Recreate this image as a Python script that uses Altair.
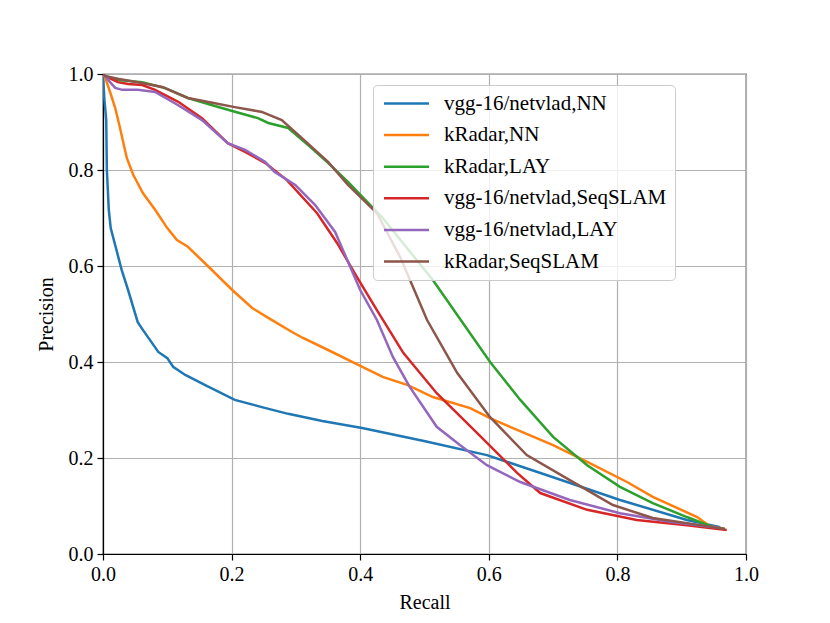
import altair as alt
import pandas as pd

labels = [
    "vgg-16/netvlad,NN",
    "kRadar,NN",
    "kRadar,LAY",
    "vgg-16/netvlad,SeqSLAM",
    "vgg-16/netvlad,LAY",
    "kRadar,SeqSLAM",
]
colors = ["#1f77b4", "#ff7f0e", "#2ca02c", "#d62728", "#9467bd", "#8c564b"]

vgg_nn_r = [0.0, 0.002, 0.005, 0.006, 0.009, 0.012, 0.021, 0.029, 0.039, 0.054, 0.062, 0.086, 0.1, 0.109, 0.128,
            0.159, 0.205, 0.247, 0.288, 0.341, 0.403, 0.501, 0.597, 0.7, 0.804, 0.908, 0.96]
vgg_nn_p = [1.0, 0.95, 0.904, 0.8, 0.717, 0.679, 0.633, 0.592, 0.55, 0.483, 0.467, 0.421, 0.408, 0.39, 0.373,
            0.352, 0.321, 0.306, 0.292, 0.277, 0.2625, 0.235, 0.206, 0.16, 0.1125, 0.071, 0.056]

kr_nn_r = [0.0, 0.003, 0.011, 0.019, 0.026, 0.037, 0.047, 0.062, 0.081, 0.1, 0.115, 0.132, 0.163, 0.201, 0.232,
           0.257, 0.294, 0.311, 0.35, 0.397, 0.435, 0.474, 0.513, 0.571, 0.602, 0.633, 0.7, 0.753, 0.815, 0.855,
           0.924, 0.944, 0.967]
kr_nn_p = [1.0, 0.994, 0.9625, 0.929, 0.89, 0.825, 0.79, 0.752, 0.717, 0.679, 0.654, 0.64, 0.6, 0.55, 0.5125,
           0.492, 0.4625, 0.45, 0.425, 0.394, 0.369, 0.352, 0.327, 0.304, 0.283, 0.265, 0.227, 0.192, 0.15, 0.119,
           0.077, 0.058, 0.052]

kr_lay_r = [0.0, 0.003, 0.023, 0.061, 0.096, 0.132, 0.17, 0.201, 0.241, 0.257, 0.288, 0.319, 0.35, 0.381, 0.435,
            0.513, 0.602, 0.649, 0.7, 0.753, 0.804, 0.855, 0.908, 0.949, 0.967]
kr_lay_p = [1.0, 0.996, 0.9875, 0.983, 0.971, 0.95, 0.935, 0.923, 0.908, 0.898, 0.8875, 0.852, 0.815, 0.775, 0.7,
            0.571, 0.4, 0.321, 0.244, 0.185, 0.14, 0.106, 0.077, 0.056, 0.052]

vgg_seq_r = [0.0, 0.003, 0.023, 0.039, 0.061, 0.081, 0.117, 0.154, 0.194, 0.221, 0.252, 0.286, 0.333, 0.364, 0.395,
             0.426, 0.467, 0.519, 0.582, 0.644, 0.68, 0.753, 0.83, 0.908, 0.97]
vgg_seq_p = [1.0, 0.996, 0.983, 0.979, 0.977, 0.967, 0.942, 0.908, 0.856, 0.8375, 0.815, 0.779, 0.71, 0.648, 0.577,
             0.508, 0.419, 0.335, 0.252, 0.169, 0.127, 0.092, 0.071, 0.06, 0.05]

vgg_lay_r = [0.0, 0.003, 0.011, 0.019, 0.03, 0.054, 0.081, 0.117, 0.154, 0.194, 0.221, 0.252, 0.267, 0.299, 0.33,
             0.361, 0.4, 0.426, 0.451, 0.477, 0.519, 0.555, 0.597, 0.649, 0.726, 0.804, 0.882, 0.96]
vgg_lay_p = [1.0, 0.996, 0.983, 0.971, 0.967, 0.967, 0.9625, 0.935, 0.904, 0.856, 0.842, 0.817, 0.796, 0.769, 0.727,
             0.671, 0.55, 0.4875, 0.41, 0.348, 0.265, 0.227, 0.185, 0.15, 0.1125, 0.085, 0.067, 0.054]

kr_seq_r = [0.0, 0.003, 0.023, 0.054, 0.092, 0.132, 0.17, 0.205, 0.247, 0.278, 0.309, 0.35, 0.381, 0.426, 0.462,
            0.504, 0.551, 0.602, 0.659, 0.726, 0.793, 0.855, 0.949, 0.967]
kr_seq_p = [1.0, 0.996, 0.99, 0.983, 0.973, 0.95, 0.94, 0.931, 0.921, 0.904, 0.867, 0.817, 0.769, 0.71, 0.619,
            0.4875, 0.377, 0.285, 0.206, 0.154, 0.102, 0.075, 0.056, 0.052]

series = [
    (vgg_nn_r, vgg_nn_p),
    (kr_nn_r, kr_nn_p),
    (kr_lay_r, kr_lay_p),
    (vgg_seq_r, vgg_seq_p),
    (vgg_lay_r, vgg_lay_p),
    (kr_seq_r, kr_seq_p),
]

rows = []
for k, (lab, (rs, ps)) in enumerate(zip(labels, series)):
    for i, (r, p) in enumerate(zip(rs, ps)):
        rows.append({"method": lab, "recall": r, "precision": p, "idx": i, "k": k})
df = pd.DataFrame(rows)

FONT = "Liberation Serif"
ticks = [0.0, 0.2, 0.4, 0.6, 0.8, 1.0]

chart = alt.Chart(df).mark_line(strokeWidth=2.5, clip=True).encode(
    x=alt.X("recall:Q", title="Recall", scale=alt.Scale(domain=[0, 1], nice=False),
            axis=alt.Axis(values=ticks, format=".1f", labelFlush=False)),
    y=alt.Y("precision:Q", title="Precision", scale=alt.Scale(domain=[0, 1], nice=False),
            axis=alt.Axis(values=ticks, format=".1f", labelFlush=False)),
    color=alt.Color("method:N", scale=alt.Scale(domain=labels, range=colors),
                    legend=alt.Legend(orient="none", legendX=270, legendY=11, title=None,
                                      symbolType="M-3,0H3", symbolSize=225, symbolStrokeWidth=2.5,
                                      symbolOffset=15,
                                      labelFontSize=21, labelFont=FONT, labelColor="black",
                                      labelOffset=27, labelLimit=500,
                                      fillColor="rgba(255,255,255,0.8)", strokeColor="#cccccc",
                                      cornerRadius=4, padding=8, rowPadding=9.6)),
    order="idx:Q",
    detail="method:N",
).properties(
    width=643, height=480,
    autosize=alt.AutoSizeParams(type="none"),
    padding={"left": 95, "top": 66, "right": 76, "bottom": 61},
).configure_axis(
    grid=True, gridColor="#b0b0b0", gridWidth=1.2,
    domainColor="black", domainWidth=1.2,
    tickColor="black", tickSize=6, tickWidth=1.2,
    labelFont=FONT, labelFontSize=20, labelColor="black", labelPadding=4,
    titleFont=FONT, titleFontSize=20, titleColor="black", titleFontWeight="normal",
).configure_axisY(titlePadding=12).configure_axisX(titlePadding=8).configure_view(
    stroke="black", strokeWidth=1.2
)

chart.save("out.html", embed_options={"renderer": "svg", "actions": False})
